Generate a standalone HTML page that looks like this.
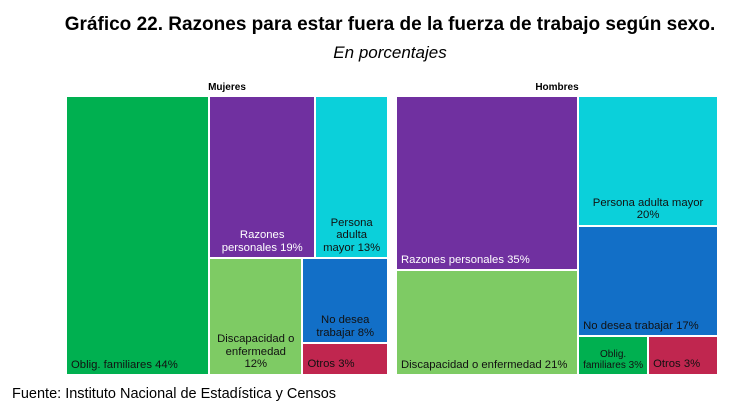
<!DOCTYPE html>
<html><head><meta charset="utf-8"><style>
body{margin:0;background:#fff;width:754px;height:406px;overflow:hidden;font-family:"Liberation Sans",sans-serif;position:relative}
.t{position:absolute;left:13px;width:754px;text-align:center}
.cell{position:absolute;box-sizing:border-box;font-size:11.3px;line-height:12.5px;display:flex;flex-direction:column;justify-content:flex-end;padding:0 4px 3px 4px}
</style></head><body>
<div class="t" style="top:14px;font-size:19px;font-weight:bold">Gráfico 22. Razones para estar fuera de la fuerza de trabajo según sexo.</div>
<div class="t" style="top:43px;font-size:17px;font-style:italic">En porcentajes</div>
<div style="position:absolute;left:67px;width:320px;top:82px;text-align:center;font-size:10px;font-weight:bold">Mujeres</div>
<div style="position:absolute;left:397px;width:320px;top:82px;text-align:center;font-size:10px;font-weight:bold">Hombres</div>
<div style="position:absolute;left:12px;top:386px;font-size:14.5px">Fuente: Instituto Nacional de Estadística y Censos</div>
<div id="chart"></div>
<script>
const mujLabels=["Oblig. familiares 44%","Razones<br>personales 19%","Persona<br>adulta<br>mayor 13%","Discapacidad o<br>enfermedad<br>12%","No desea<br>trabajar 8%","Otros 3%"];
const mujValues=[44,19,13,12,8,3];
const homLabels=["Razones personales 35%","Discapacidad o enfermedad 21%","Persona adulta mayor<br>20%","No desea trabajar 17%","Oblig.<br>familiares 3%","Otros 3%"];
const homValues=[35,21,20,17,3,3];
const colors={razones:"#7030a0",oblig:"#00b050",persona:"#0bd0da",disc:"#7ecb64",nodesea:"#126fc7",otros:"#c0264f"};
const chart=document.getElementById('chart');
function cell(x,y,w,h,label,color,light,align,name,small){
  const d=document.createElement('div');d.className='cell';
  
  
  d.style.cssText+=`left:${x+1}px;top:${y+1}px;width:${w-2}px;height:${h-2}px;background:${color};color:${light?'#fff':'#111'};text-align:${align}`;
  if(small){d.style.fontSize='10px';d.style.lineHeight='11px';d.style.padding='0 2px 3px 2px';}
  d.innerHTML='<span>'+label+'</span>';chart.appendChild(d);
}
function sum(a){return a.reduce((s,v)=>s+v,0);}
(function(){
  const v=mujValues,L=mujLabels,X=66,Y=96,W=322,H=279,T=sum(v);
  const w0=W*v[0]/T; cell(X,Y,w0,H,L[0],colors.oblig,false,'left','cell-mujeres-oblig');
  const rx=X+w0,rw=W-w0,rest=sum(v.slice(1));
  const th=H*(v[1]+v[2])/rest;
  const w1=rw*v[1]/(v[1]+v[2]);
  cell(rx,Y,w1,th,L[1],colors.razones,true,'center','cell-mujeres-razones');
  cell(rx+w1,Y,rw-w1,th,L[2],colors.persona,false,'center','cell-mujeres-persona');
  const by=Y+th,bh=H-th,bt=v[3]+v[4]+v[5];
  const w3=rw*v[3]/bt;
  cell(rx,by,w3,bh,L[3],colors.disc,false,'center','cell-mujeres-disc');
  const h4=bh*v[4]/(v[4]+v[5]);
  cell(rx+w3,by,rw-w3,h4,L[4],colors.nodesea,false,'center','cell-mujeres-nodesea');
  cell(rx+w3,by+h4,rw-w3,bh-h4,L[5],colors.otros,false,'left','cell-mujeres-otros');
})();
(function(){
  const v=homValues,L=homLabels,X=396,Y=96,W=322,H=279,T=sum(v);
  const lw=W*(v[0]+v[1])/T;
  const h0=H*v[0]/(v[0]+v[1]);
  cell(X,Y,lw,h0,L[0],colors.razones,true,'left','cell-hombres-razones');
  cell(X,Y+h0,lw,H-h0,L[1],colors.disc,false,'left','cell-hombres-disc');
  const rx=X+lw,rw=W-lw,rt=v[2]+v[3]+v[4]+v[5];
  const h2=H*v[2]/rt,h3=H*v[3]/rt;
  cell(rx,Y,rw,h2,L[2],colors.persona,false,'center','cell-hombres-persona');
  cell(rx,Y+h2,rw,h3,L[3],colors.nodesea,false,'left','cell-hombres-nodesea');
  const sy=Y+h2+h3,sh=H-h2-h3,w4=rw*v[4]/(v[4]+v[5]);
  cell(rx,sy,w4,sh,L[4],colors.oblig,false,'center','cell-hombres-oblig',true);
  cell(rx+w4,sy,rw-w4,sh,L[5],colors.otros,false,'left','cell-hombres-otros');
})();
</script>
</body></html>
